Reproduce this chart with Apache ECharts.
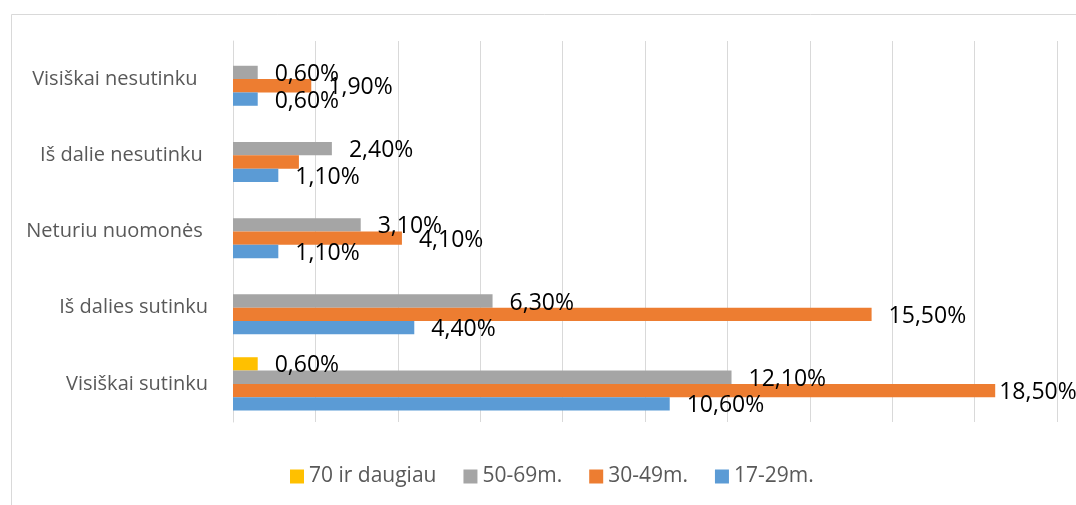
<!DOCTYPE html>
<html>
<head>
<meta charset="utf-8">
<script src="https://cdn.jsdelivr.net/npm/echarts@6/dist/echarts.min.js"></script>
<style>
html,body{margin:0;padding:0;background:#fff;}
#c{width:1076px;height:505px;}
</style>
</head>
<body>
<div id="c"></div>
<script>
var categories = ['Visiškai sutinku', 'Iš dalies sutinku', 'Neturiu nuomonės ', 'Iš dalie nesutinku ', 'Visiškai nesutinku  '];
var seriesNames = ['70 ir daugiau', '50-69m.', '30-49m.', '17-29m.'];
var v70 = [0.6, null, null, null, null];
var v5069 = [12.1, 6.3, 3.1, 2.4, 0.6];
var v3049 = [18.5, 15.5, 4.1, 1.6, 1.9];
var v1729 = [10.6, 4.4, 1.1, 1.1, 0.6];
var hideLabel3049 = [false, false, false, true, false];
var colors = ['#FFC000', '#A5A5A5', '#ED7D31', '#5B9BD5'];

var FONT = 'Open Sans';
function fmt(p) { return p.value.toFixed(2).replace('.', ',') + '%'; }
function mk(vals, hide) {
  return vals.map(function (v, i) {
    if (v === null) return null;
    if (hide && hide[i]) return { value: v, label: { show: false } };
    // labels of the longest bars are pulled closer to the bar end (as in the original)
    if (v > 18) return { value: v, label: { distance: 4 } };
    return v;
  });
}
var dataSets = [mk(v70), mk(v5069), mk(v3049, hideLabel3049), mk(v1729)];

var chart = echarts.init(document.getElementById('c'), null, { renderer: 'canvas' });
chart.setOption({
  animation: false,
  backgroundColor: '#fff',
  graphic: [{
    type: 'rect', left: 9, top: 12, shape: { width: 1200, height: 600 },
    style: { fill: 'none', stroke: '#d9d9d9', lineWidth: 1 }, silent: true, z: -1
  }],
  legend: {
    data: seriesNames,
    top: 461,
    left: 285,
    itemWidth: 14, itemHeight: 14, itemGap: 27,
    icon: 'rect',
    textStyle: { fontFamily: FONT, fontSize: 21, color: '#595959' }
  },
  grid: { left: 233, right: 19, top: 41, bottom: 83, containLabel: false },
  xAxis: {
    type: 'value', min: 0, max: 20, interval: 2,
    axisLabel: { show: false },
    axisLine: { show: false },
    axisTick: { show: false },
    splitLine: { lineStyle: { color: '#d9d9d9', width: 1 } }
  },
  yAxis: {
    type: 'category', data: categories,
    axisTick: { show: false },
    axisLine: { lineStyle: { color: '#d9d9d9' } },
    axisLabel: { margin: 25, fontFamily: FONT, fontSize: 20, color: '#595959' }
  },
  series: seriesNames.map(function (n, i) {
    return {
      name: n, type: 'bar', data: dataSets[i],
      barGap: '0%', barCategoryGap: '30%',
      itemStyle: { color: colors[i] },
      label: {
        show: true, position: 'right', distance: 17, offset: [0, 2],
        formatter: fmt,
        fontFamily: FONT, fontSize: 23, color: '#000'
      }
    };
  })
});
</script>
</body>
</html>
